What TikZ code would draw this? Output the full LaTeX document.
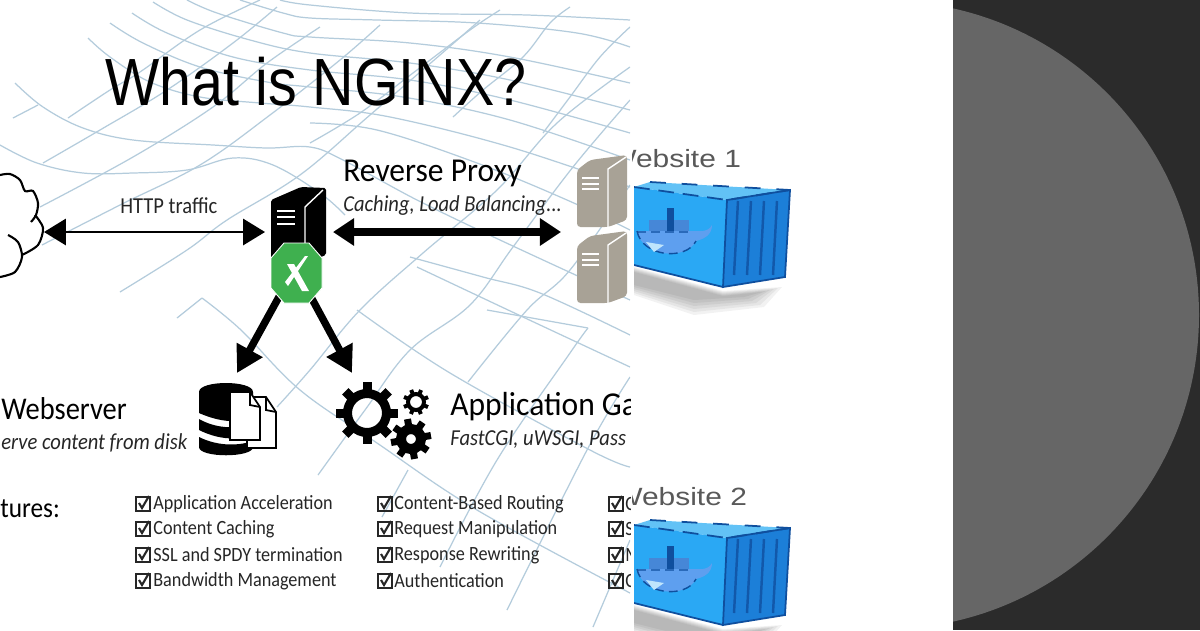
\documentclass[tikz,border=0pt]{standalone}
\usepackage{fontspec}
\setmainfont[FakeStretch=0.9]{Carlito}
\newfontfamily\headfont[FakeStretch=0.945]{Carlito}
\newfontfamily\titlefont[FakeStretch=0.86]{Liberation Sans}
\newfontfamily\sitefont[FakeStretch=1.2]{Liberation Sans}
\usetikzlibrary{arrows.meta}
\definecolor{gridblue}{HTML}{B4CCDC}
\definecolor{rackgray}{HTML}{A8A296}
\definecolor{logogreen}{HTML}{3FB04F}
\definecolor{darkbg}{HTML}{2B2B2B}
\definecolor{circgray}{HTML}{666666}
\definecolor{boxfront}{HTML}{2AA8F4}
\definecolor{boxtop}{HTML}{62C2F6}
\definecolor{boxside}{HTML}{1C7FD8}
\definecolor{boxedge}{HTML}{0F4F9E}
\definecolor{whaleblue}{HTML}{5E9FEF}
\tikzset{
	gridline/.style={draw=gridblue,line width=.7pt,smooth,tension=.6},
	headlbl/.style={anchor=base west,inner sep=0,font=\headfont\fontsize{19}{19}\selectfont},
	sublbl/.style={anchor=base west,inner sep=0,text=black!85,font=\fontsize{13}{13}\selectfont\itshape},
	featlbl/.style={anchor=west,inner sep=0,text=black!85,font=\fontsize{11.5}{11.5}\selectfont},
	sitelbl/.style={anchor=base west,inner sep=0,text=black!65,font=\sitefont\fontsize{14.2}{14.2}\selectfont},
	thinarrow/.style={line width=1.2pt,{Triangle[length=12.5pt,width=15pt]}-{Triangle[length=12.5pt,width=15pt]}},
	fatarrow/.style={line width=4.5pt,{Triangle[length=12pt,width=15pt]}-{Triangle[length=12pt,width=15pt]}},
	downarrow/.style={line width=4.2pt,-{Triangle[length=15pt,width=16pt]}},
	chkbox/.pic={
		\draw[line width=.9pt,black!85](-7,-7)rectangle(7,7);
		\draw[line width=1.2pt,black!85](-4,-1)--(-1,4)--(6,-8);
	},
	rackunit/.pic={
		\fill[rackgray,rounded corners=2pt](0,15)--(13,5)--(50,0)--(50,65)--(31,72)--(0,72)--cycle;
		\draw[white,line width=.8pt](31,72)--(31,14)--(49,2);
		\foreach \yy in {23,29,34}
			\draw[white,line width=1pt](5,\yy)--(22,\yy);
	},
	boxpic/.pic={
		\foreach \k in {0,...,5}
			\fill[black,opacity=.05](0,80+\k)--(89,104+\k)--(148-4*\k,100+\k)--(130-4*\k,120-2*\k)--(60,128-3*\k)--(0,108-2*\k)--cycle;
		\fill[boxtop](0,0)--(16,-5)--(156,3)--(93,13)--cycle;
		\fill[boxfront](0,0)--(93,13)--(89,100)--(0,78)--cycle;
		\fill[boxside](93,13)--(156,3)--(151,90)--(89,100)--cycle;
		\draw[boxedge,line width=1pt,dash pattern=on 9pt off 5pt](0,0)--(93,13)--(156,3);
		\draw[boxedge,line width=1pt,dash pattern=on 9pt off 9pt](16,-5)--(156,3);
		\draw[boxedge,line width=1pt](93,13)--(89,100)--(151,90)--(156,3)--cycle (0,78)--(89,100);
		\foreach \xx in {104,117,130,143}
			\draw[boxedge!80!boxside,line width=1.4pt](\xx,14)--(\xx-4,88);
		\fill[whaleblue](3,44)..controls(8,70)and(52,74)..(62,54)..controls(70,52)and(78,48)..(78,38)..controls(74,46)and(64,44)..(58,44)--cycle;
		\fill[whaleblue!70!boxedge](15,33)rectangle(55,44);
		\fill[boxedge](33,21)rectangle(40,44);
		\draw[boxedge,line width=.8pt,dash pattern=on 5pt off 3pt](3,44)..controls(8,70)and(52,74)..(62,54) (3,45)--(58,45);
		\fill[white!70!boxfront](12,55)--(30,58)--(20,65)--cycle;
	}
}
\newcommand{\meshline}[1]{\draw[gridline]plot coordinates{#1};}
\newcommand{\gearicon}[6]{
	\draw[line width={(#4-#5)*.569pt}](#1,#2)circle({(#4+#5)/2});
	\foreach \ang in {0,45,...,315}
		\fill[rotate around={\ang+#3:(#1,#2)}](#1-#6/2,#2-#4-#6*.75)rectangle(#1+#6/2,#2-#4+#6*.2);
}
\begin{document}
\begin{tikzpicture}[x=.02cm,y=-.02cm]
	\useasboundingbox(0,0)rectangle(1200,630);
	\fill[white](0,0)rectangle(1200,630);
	\fill[darkbg](953,0)rectangle(1200,630);
	\begin{scope}
		\clip(953,0)rectangle(1200,630);
		\fill[circgray](885,315)circle(314);
	\end{scope}
	\begin{scope}
		\clip(0,0)rectangle(630,630);
		% mesh behind the slide
		\meshline{(15,83)(43,107)(83,128)(133,140)(213,145)(267,148)(310,147)(343,160)(417,200)(500,240)(630,300)}
		\meshline{(0,145)(37,163)(83,173)(133,173)(187,170)(233,158)(273,165)(320,193)(345,215)}
		\meshline{(88,38)(110,57)(150,82)(200,97)(260,103)(310,107)(390,117)(510,147)(630,187)}
		\meshline{(110,23)(143,43)(200,67)(267,82)(310,87)(403,97)(510,120)(630,160)}
		\meshline{(132,13)(167,33)(233,57)(310,70)(410,80)(510,100)(630,133)}
		\meshline{(153,2)(187,20)(250,40)(310,53)(410,63)(510,80)(630,110)}
		\meshline{(187,0)(217,13)(283,33)(310,37)(410,43)(510,57)(630,83)}
		\meshline{(240,0)(283,13)(310,18)(377,20)(477,23)(577,33)(630,47)}
		\meshline{(280,0)(310,5)(410,13)(527,15)(630,20)}
		\meshline{(310,123)(377,130)(477,163)(567,200)(630,230)}
		\meshline{(410,257)(483,277)(540,293)(630,335)}
		\meshline{(417,267)(523,317)(630,367)}
		\meshline{(202,298)(241,330)(300,390)(377,443)(477,510)(630,593)}
		\meshline{(357,310)(450,373)(590,450)(630,467)}
		\meshline{(487,310)(588,328)}
		\meshline{(13,118)(38,105)}
		\meshline{(68,118)(110,90)(140,72)(200,30)(260,0)}
		\meshline{(43,163)(100,130)(167,90)(233,43)(277,7)}
		\meshline{(40,207)(133,157)(213,107)(267,63)(320,27)}
		\meshline{(42,245)(120,205)(200,165)(270,115)(340,60)(380,25)}
		\meshline{(120,292)(187,250)(227,220)(300,175)(370,115)(440,55)(480,20)}
		\meshline{(310,143)(360,113)(413,73)(470,30)(500,10)}
		\meshline{(277,407)(310,370)(360,310)(423,253)(497,190)(557,123)(630,67)}
		\meshline{(318,475)(365,410)(410,350)(470,305)(513,247)(573,167)(630,100)}
		\meshline{(468,382)(527,310)(570,270)(630,185)}
		\meshline{(440,567)(497,460)(570,353)(588,328)}
		\meshline{(507,610)(587,450)(630,377)}
		\meshline{(593,627)(630,540)}
		\meshline{(382,517)(408,470)}
		\meshline{(453,117)(483,90)(523,57)(550,23)(570,7)}
		\meshline{(543,133)(570,97)(600,57)(630,27)}
		\meshline{(177,318)(202,298)}
		\node[anchor=base west,inner sep=0,font=\titlefont\fontsize{38}{38}\selectfont](titlelbl)at(105,105){What is NGINX?};
		\node[headlbl](revlbl)at(343,181){Reverse Proxy};
		\node[sublbl](cachelbl)at(343,211){Caching, Load Balancing...};
		\node[anchor=base west,inner sep=0,text=black!85,font=\fontsize{13}{13}\selectfont](httplbl)at(120,213){HTTP traffic};
		\node[anchor=base west,inner sep=0,font=\fontsize{18}{18}\selectfont](weblbl)at(1,419){Webserver};
		\node[sublbl](servelbl)at(1,449){erve content from disk};
		\node[headlbl](applbl)at(450,415){Application Ga};
		\node[sublbl](fastlbl)at(450,445){FastCGI, uWSGI, Pass};
		\node[anchor=base west,inner sep=0,font=\fontsize{16}{16}\selectfont](turelbl)at(0,517){tures:};
		% feature lists
		\foreach \yy/\txt/\nm in {504/Application Acceleration/a,529/Content Caching/b,555/SSL and SPDY termination/c,581/Bandwidth Management/d}{
			\path(143,\yy)pic{chkbox};
			\node[featlbl](feata\nm)at(153,\yy){\txt};
		}
		\foreach \yy/\txt/\nm in {504/Content-Based Routing/a,529/Request Manipulation/b,555/Response Rewriting/c,581/Authentication/d}{
			\path(385,\yy)pic{chkbox};
			\node[featlbl](featb\nm)at(394,\yy){\txt};
		}
		\foreach \yy/\txt/\nm in {504/C/a,529/S/b,555/M/c,581/C/d}{
			\path(616,\yy)pic{chkbox};
			\node[featlbl](featc\nm)at(625,\yy){\txt};
		}
		% cloud
		\draw[line width=1.2pt,smooth]plot coordinates{(0,175)(10,174)(20,180)(25,191)(33,191)(38,203)(36,215)(31,222)};
		\draw[line width=1.2pt,smooth]plot coordinates{(35,215)(43,228)(38,245)(22,255)};
		\draw[line width=1.2pt,smooth]plot coordinates{(8,235)(18,242)(22,257)(15,272)(0,277)};
		% backend racks
		\path(577,155)pic{rackunit};
		\path(577,231)pic{rackunit};
		% server
		\fill[rounded corners=1pt](271,200)--(301,187)--(326,188)--(326,255)--(300,265)--(271,258)--cycle;
		\draw[white,line width=.8pt](305,258)--(305,207)--(323,190);
		\foreach \yy in {211,217,224}
			\draw[white,line width=1pt](277,\yy)--(295,\yy);
		\coordinate(cloudport)at(44,232);
		\coordinate(srvleft)at(265,232);
		\coordinate(srvright)at(333,232);
		\coordinate(rackport)at(561,232);
		\coordinate(logoleft)at(280,295);
		\coordinate(logoright)at(311,297);
		\coordinate(diskport)at(237,373);
		\coordinate(gearport)at(352,373);
		\draw[thinarrow](cloudport)--(srvleft);
		\draw[fatarrow](srvright)--(rackport);
		\draw[downarrow](logoleft)--(diskport);
		\draw[downarrow](logoright)--(gearport);
		% logo
		\fill[logogreen,draw=white,line width=.5pt](284,243)--(309,243)--(322,258)--(322,288)--(309,303)--(284,303)--(271,288)--(271,258)--cycle;
		\fill[white](287,264)--(294,264)--(309,291)--(302,291)--cycle;
		\fill[white](305,256)--(308,256)--(288,286)--(285,282)--cycle;
		% disk icon
		\fill(199,392)..controls(199,380)and(253,380)..(253,392)--(253,417)..controls(235,425)and(215,420)..(199,413)--cycle;
		\fill(199,419)..controls(215,428)and(235,430)..(253,423)--(253,434)..controls(235,442)and(215,438)..(199,430)--cycle;
		\fill(199,437)..controls(215,445)and(235,447)..(253,441)--(253,447)..controls(253,458)and(199,458)..(199,447)--cycle;
		\draw[fill=white,line width=1pt](247,397)--(266,397)--(276,412)--(276,448)--(247,448)--cycle;
		\draw[fill=white,line width=1pt](230,392)--(250,392)--(260,407)--(260,440)--(230,440)--cycle;
		\draw[line width=1pt](250,392)--(250,405)--(260,407) (266,397)--(266,410)--(276,412);
		% gears
		\gearicon{367}{413}{0}{24}{15}{9}
		\gearicon{416}{402}{22}{10}{6}{4}
		\gearicon{411}{439}{10}{15}{5}{7}
	\end{scope}
	\begin{scope}
		\clip(632,0)rectangle(953,630);
		\node[sitelbl](siteone)at(608,167){Website 1};
		\node[sitelbl](sitetwo)at(614,505){Website 2};
		\clip(634,0)rectangle(953,630);
		\path(634,187)pic{boxpic};
		\path(634,525)pic{boxpic};
	\end{scope}
\end{tikzpicture}
\end{document}
